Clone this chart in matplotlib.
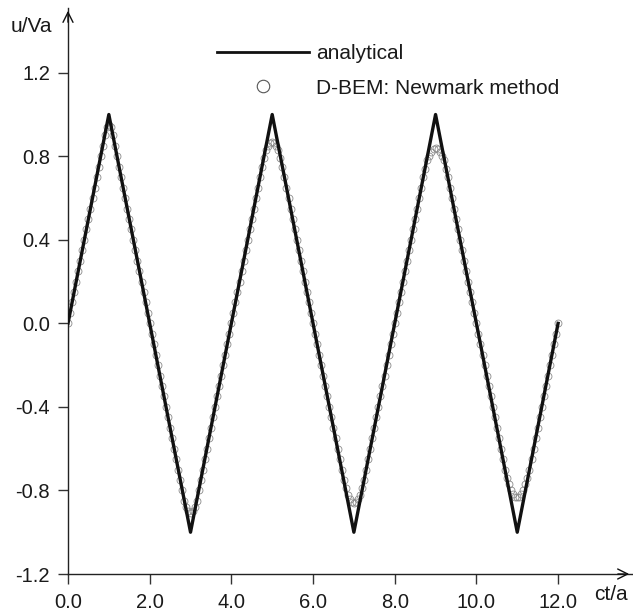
import numpy as np
import matplotlib
matplotlib.use("Agg")
import matplotlib.pyplot as plt
from matplotlib.lines import Line2D

plt.rcParams["font.family"] = ["Liberation Sans", "DejaVu Sans"]

# analytical solution: triangular wave
t_exact = [0.0, 1.0, 3.0, 5.0, 7.0, 9.0, 11.0, 12.0]
u_exact = [0.0, 1.0, -1.0, 1.0, -1.0, 1.0, -1.0, 0.0]

# D-BEM (Newmark) samples, time step 0.05
t_num = np.round(np.arange(241) * 0.05, 2)
u_num = [
    # 0.00 - 0.85
    0.00, 0.05, 0.10, 0.15, 0.20, 0.25, 0.30, 0.35, 0.40, 0.45,
    0.50, 0.55, 0.60, 0.65, 0.70, 0.75, 0.80, 0.85,
    # 0.90 - 1.10
    0.90, 0.94, 0.95, 0.94, 0.90,
    # 1.15 - 2.80
    0.85, 0.80, 0.75, 0.70, 0.65, 0.60, 0.55, 0.50, 0.45, 0.40,
    0.35, 0.30, 0.25, 0.20, 0.15, 0.10, 0.05, 0.00, -0.05, -0.10,
    -0.15, -0.20, -0.25, -0.30, -0.35, -0.40, -0.45, -0.50, -0.55, -0.60,
    -0.65, -0.70, -0.75, -0.80,
    # 2.85 - 3.15
    -0.85, -0.88, -0.90, -0.91, -0.90, -0.88, -0.85,
    # 3.20 - 4.70
    -0.80, -0.75, -0.70, -0.65, -0.60, -0.55, -0.50, -0.45, -0.40, -0.35,
    -0.30, -0.25, -0.20, -0.15, -0.10, -0.05, 0.00, 0.05, 0.10, 0.15,
    0.20, 0.25, 0.30, 0.35, 0.40, 0.45, 0.50, 0.55, 0.60, 0.65,
    0.70,
    # 4.75 - 5.25
    0.75, 0.79, 0.83, 0.85, 0.865, 0.87, 0.865, 0.85, 0.83, 0.79, 0.75,
    # 5.30 - 6.70
    0.70, 0.65, 0.60, 0.55, 0.50, 0.45, 0.40, 0.35, 0.30, 0.25,
    0.20, 0.15, 0.10, 0.05, 0.00, -0.05, -0.10, -0.15, -0.20, -0.25,
    -0.30, -0.35, -0.40, -0.45, -0.50, -0.55, -0.60, -0.65, -0.70,
    # 6.75 - 7.25
    -0.75, -0.79, -0.82, -0.84, -0.855, -0.86, -0.855, -0.84, -0.82, -0.79, -0.75,
    # 7.30 - 8.65
    -0.70, -0.65, -0.60, -0.55, -0.50, -0.45, -0.40, -0.35, -0.30, -0.25,
    -0.20, -0.15, -0.10, -0.05, 0.00, 0.05, 0.10, 0.15, 0.20, 0.25,
    0.30, 0.35, 0.40, 0.45, 0.50, 0.55, 0.60, 0.65,
    # 8.70 - 9.30
    0.70, 0.74, 0.78, 0.80, 0.82, 0.835, 0.84, 0.835, 0.82, 0.80, 0.78, 0.74, 0.70,
    # 9.35 - 10.65
    0.65, 0.60, 0.55, 0.50, 0.45, 0.40, 0.35, 0.30, 0.25, 0.20,
    0.15, 0.10, 0.05, 0.00, -0.05, -0.10, -0.15, -0.20, -0.25, -0.30,
    -0.35, -0.40, -0.45, -0.50, -0.55, -0.60, -0.65,
    # 10.70 - 11.30
    -0.70, -0.74, -0.77, -0.80, -0.815, -0.83, -0.83, -0.83, -0.815, -0.80, -0.77, -0.74, -0.70,
    # 11.35 - 12.00
    -0.65, -0.60, -0.55, -0.50, -0.45, -0.40, -0.35, -0.30, -0.25, -0.20,
    -0.15, -0.10, -0.05, 0.00,
]

x_ticks = [0.0, 2.0, 4.0, 6.0, 8.0, 10.0, 12.0]
y_ticks = [-1.2, -0.8, -0.4, 0.0, 0.4, 0.8, 1.2]

W, H = 633, 613
fig = plt.figure(figsize=(W / 100, H / 100), dpi=100)
ax = fig.add_axes([68 / W, (H - 574) / H, (632 - 68) / W, (574 - 8) / H])

ax.plot(t_num, u_num, "o", ms=5.0, mfc="none", mec="#8a8a8a", mew=0.6, zorder=2)
ax.plot(t_exact, u_exact, color="#111111", lw=2.4, zorder=3)

ax.set_xlim(0, 13.81)
ax.set_ylim(-1.2, 1.51)

for s in ["top", "right"]:
    ax.spines[s].set_visible(False)
for s in ["left", "bottom"]:
    ax.spines[s].set_linewidth(1.0)
    ax.spines[s].set_color("#222222")

ax.set_xticks(x_ticks)
ax.set_xticklabels([f"{v:.1f}" for v in x_ticks])
ax.set_yticks(y_ticks)
ax.set_yticklabels([f"{v:.1f}" for v in y_ticks])
ax.tick_params(axis="both", direction="out", length=7, width=1.0,
               color="#333333", labelsize=14.5, labelcolor="#1a1a1a")
ax.tick_params(axis="x", pad=7)
ax.tick_params(axis="y", pad=6)

# axis arrows
ax.annotate("", xy=(1.0, 0.0), xytext=(0.97, 0.0), xycoords="axes fraction",
            arrowprops=dict(arrowstyle="->", lw=1.0, color="#111111", mutation_scale=18))
ax.annotate("", xy=(0.0, 1.0), xytext=(0.0, 0.97), xycoords="axes fraction",
            arrowprops=dict(arrowstyle="->", lw=1.0, color="#111111", mutation_scale=18))

fig.text(11 / W, 1 - 27 / H, "u/Va", fontsize=15, ha="left", va="center", color="#1a1a1a")
fig.text(594 / W, 1 - 594 / H, "ct/a", fontsize=15, ha="left", va="center", color="#1a1a1a")

handles = [
    Line2D([], [], color="#111111", lw=2.0),
    Line2D([], [], ls="none", marker="o", ms=9, mfc="none", mec="#555555", mew=0.8),
]
ax.legend(handles, ["analytical", "D-BEM: Newmark method"], loc="upper left",
          bbox_to_anchor=(217 / W, 1 - 44 / H), bbox_transform=fig.transFigure,
          frameon=False, fontsize=15, handlelength=4.4, handletextpad=0.35,
          labelspacing=0.75, borderpad=0, borderaxespad=0, labelcolor="#1a1a1a")

fig.savefig("out.png", dpi=100)
